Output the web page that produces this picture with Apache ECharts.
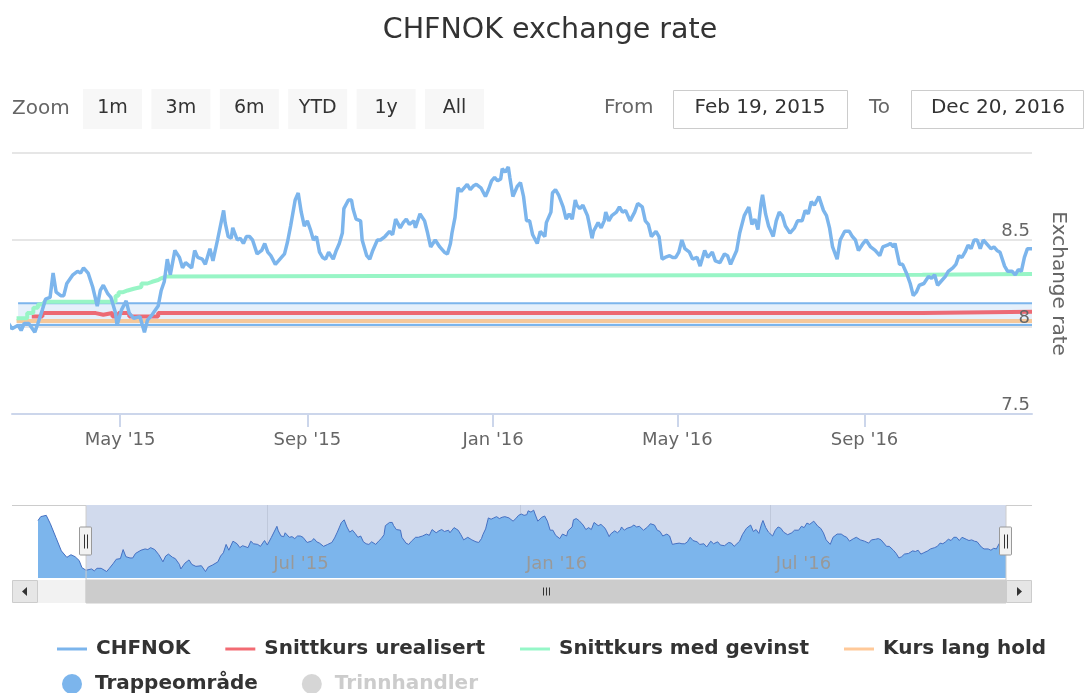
<!DOCTYPE html>
<html>
<head>
<meta charset="utf-8">
<title>CHFNOK exchange rate</title>
<script src="https://cdn.jsdelivr.net/npm/echarts@6.0.0/dist/echarts.min.js"></script>
<style>
  html, body { margin: 0; padding: 0; background: #fff; }
  #chart { width: 1085px; height: 693px; }
</style>
</head>
<body>
<div id="chart"></div>
<script>
const FONT = 'DejaVu Sans';

// CHFNOK kurs (lest av figuren)
const chfnok = [
  ['2015-01-15', 8.76], ['2015-01-17', 8.82], ['2015-01-21', 8.84], ['2015-01-24', 8.71],
  ['2015-01-28', 8.50], ['2015-02-01', 8.29], ['2015-02-05', 8.19], ['2015-02-08', 8.23],
  ['2015-02-11', 8.20], ['2015-02-14', 8.14], ['2015-02-16', 8.03], ['2015-02-19', 7.99],
  ['2015-02-23', 8.01], ['2015-02-25', 7.98], ['2015-02-27', 8.02], ['2015-03-02', 8.02],
  ['2015-03-06', 7.97], ['2015-03-08', 8.02], ['2015-03-11', 8.10], ['2015-03-13', 8.16],
  ['2015-03-16', 8.17], ['2015-03-18', 8.31], ['2015-03-20', 8.20], ['2015-03-23', 8.18],
  ['2015-03-25', 8.18], ['2015-03-27', 8.25], ['2015-03-31', 8.30], ['2015-04-03', 8.32],
  ['2015-04-05', 8.31], ['2015-04-07', 8.34], ['2015-04-10', 8.31], ['2015-04-13', 8.23],
  ['2015-04-16', 8.12], ['2015-04-18', 8.21], ['2015-04-20', 8.24], ['2015-04-23', 8.19],
  ['2015-04-25', 8.17], ['2015-04-28', 8.08], ['2015-04-29', 8.01], ['2015-05-02', 8.10],
  ['2015-05-05', 8.15], ['2015-05-07', 8.08], ['2015-05-10', 8.05], ['2015-05-14', 8.06],
  ['2015-05-17', 7.97], ['2015-05-19', 8.04], ['2015-05-22', 8.07], ['2015-05-26', 8.12],
  ['2015-05-28', 8.21], ['2015-05-30', 8.26], ['2015-06-01', 8.39], ['2015-06-03', 8.30],
  ['2015-06-06', 8.44], ['2015-06-09', 8.40], ['2015-06-11', 8.34], ['2015-06-13', 8.37],
  ['2015-06-17', 8.34], ['2015-06-19', 8.44], ['2015-06-21', 8.40], ['2015-06-24', 8.39],
  ['2015-06-26', 8.36], ['2015-06-29', 8.45], ['2015-07-01', 8.38], ['2015-07-04', 8.50],
  ['2015-07-08', 8.67], ['2015-07-09', 8.60], ['2015-07-11', 8.52], ['2015-07-13', 8.51],
  ['2015-07-14', 8.57], ['2015-07-17', 8.50], ['2015-07-19', 8.51], ['2015-07-21', 8.48],
  ['2015-07-23', 8.52], ['2015-07-25', 8.52], ['2015-07-27', 8.50], ['2015-07-30', 8.42],
  ['2015-08-02', 8.44], ['2015-08-04', 8.48], ['2015-08-06', 8.43], ['2015-08-08', 8.41],
  ['2015-08-11', 8.36], ['2015-08-14', 8.39], ['2015-08-17', 8.42], ['2015-08-19', 8.49],
  ['2015-08-21', 8.58], ['2015-08-24', 8.73], ['2015-08-26', 8.77], ['2015-08-28', 8.66],
  ['2015-08-30', 8.58], ['2015-09-01', 8.61], ['2015-09-03', 8.56], ['2015-09-05', 8.50],
  ['2015-09-07', 8.52], ['2015-09-09', 8.43], ['2015-09-11', 8.40], ['2015-09-13', 8.39],
  ['2015-09-15', 8.43], ['2015-09-18', 8.39], ['2015-09-20', 8.44], ['2015-09-22', 8.48],
  ['2015-09-24', 8.54], ['2015-09-25', 8.68], ['2015-09-28', 8.73], ['2015-09-30', 8.73],
  ['2015-10-01', 8.68], ['2015-10-03', 8.62], ['2015-10-06', 8.61], ['2015-10-07', 8.50],
  ['2015-10-10', 8.41], ['2015-10-12', 8.39], ['2015-10-14', 8.44], ['2015-10-17', 8.50],
  ['2015-10-19', 8.50], ['2015-10-22', 8.52], ['2015-10-25', 8.55], ['2015-10-27', 8.53],
  ['2015-10-29', 8.62], ['2015-10-30', 8.63], ['2015-11-01', 8.57], ['2015-11-03', 8.60],
  ['2015-11-05', 8.62], ['2015-11-07', 8.59], ['2015-11-10', 8.61], ['2015-11-11', 8.57],
  ['2015-11-14', 8.65], ['2015-11-15', 8.64], ['2015-11-17', 8.61], ['2015-11-19', 8.54],
  ['2015-11-21', 8.46], ['2015-11-24', 8.50], ['2015-11-27', 8.46], ['2015-11-30', 8.43],
  ['2015-12-02', 8.42], ['2015-12-04', 8.48], ['2015-12-05', 8.54], ['2015-12-07', 8.63],
  ['2015-12-09', 8.80], ['2015-12-11', 8.78], ['2015-12-13', 8.80], ['2015-12-15', 8.82],
  ['2015-12-17', 8.79], ['2015-12-19', 8.81], ['2015-12-21', 8.82], ['2015-12-24', 8.80],
  ['2015-12-27', 8.75], ['2015-12-29', 8.79], ['2015-12-31', 8.84], ['2016-01-02', 8.86],
  ['2016-01-04', 8.84], ['2016-01-06', 8.85], ['2016-01-07', 8.91], ['2016-01-09', 8.89],
  ['2016-01-11', 8.92], ['2016-01-12', 8.86], ['2016-01-14', 8.75], ['2016-01-15', 8.77],
  ['2016-01-17', 8.81], ['2016-01-19', 8.83], ['2016-01-21', 8.75], ['2016-01-23', 8.61],
  ['2016-01-25', 8.61], ['2016-01-27', 8.53], ['2016-01-30', 8.48], ['2016-02-01', 8.55],
  ['2016-02-04', 8.52], ['2016-02-05', 8.60], ['2016-02-08', 8.66], ['2016-02-09', 8.77],
  ['2016-02-11', 8.79], ['2016-02-13', 8.76], ['2016-02-16', 8.69], ['2016-02-18', 8.62],
  ['2016-02-20', 8.65], ['2016-02-22', 8.62], ['2016-02-24', 8.73], ['2016-02-25', 8.70],
  ['2016-02-27', 8.68], ['2016-02-29', 8.70], ['2016-03-03', 8.64], ['2016-03-04', 8.60],
  ['2016-03-06', 8.51], ['2016-03-07', 8.55], ['2016-03-10', 8.60], ['2016-03-12', 8.57],
  ['2016-03-14', 8.61], ['2016-03-15', 8.66], ['2016-03-17', 8.61], ['2016-03-19', 8.64],
  ['2016-03-22', 8.66], ['2016-03-24', 8.69], ['2016-03-26', 8.66], ['2016-03-28', 8.67],
  ['2016-03-31', 8.61], ['2016-04-03', 8.66], ['2016-04-05', 8.71], ['2016-04-08', 8.69],
  ['2016-04-10', 8.61], ['2016-04-12', 8.59], ['2016-04-14', 8.52], ['2016-04-17', 8.55],
  ['2016-04-19', 8.52], ['2016-04-21', 8.39], ['2016-04-23', 8.40], ['2016-04-26', 8.41],
  ['2016-04-28', 8.40], ['2016-04-30', 8.40], ['2016-05-02', 8.43], ['2016-05-04', 8.50],
  ['2016-05-06', 8.45], ['2016-05-09', 8.43], ['2016-05-11', 8.39], ['2016-05-14', 8.40],
  ['2016-05-16', 8.35], ['2016-05-19', 8.44], ['2016-05-21', 8.40], ['2016-05-24', 8.43],
  ['2016-05-26', 8.38], ['2016-05-29', 8.37], ['2016-06-01', 8.42], ['2016-06-03', 8.41],
  ['2016-06-05', 8.36], ['2016-06-07', 8.40], ['2016-06-09', 8.44], ['2016-06-11', 8.54],
  ['2016-06-14', 8.64], ['2016-06-17', 8.69], ['2016-06-19', 8.59], ['2016-06-21', 8.62],
  ['2016-06-23', 8.56], ['2016-06-25', 8.71], ['2016-06-26', 8.76], ['2016-06-28', 8.65],
  ['2016-06-30', 8.58], ['2016-07-03', 8.52], ['2016-07-05', 8.61], ['2016-07-07', 8.66],
  ['2016-07-09', 8.64], ['2016-07-11', 8.58], ['2016-07-14', 8.54], ['2016-07-17', 8.57],
  ['2016-07-19', 8.61], ['2016-07-22', 8.61], ['2016-07-24', 8.67], ['2016-07-26', 8.65],
  ['2016-07-28', 8.72], ['2016-07-30', 8.70], ['2016-08-02', 8.75], ['2016-08-05', 8.67],
  ['2016-08-07', 8.64], ['2016-08-09', 8.57], ['2016-08-11', 8.46], ['2016-08-14', 8.39],
  ['2016-08-16', 8.50], ['2016-08-19', 8.55], ['2016-08-22', 8.55], ['2016-08-24', 8.52],
  ['2016-08-26', 8.50], ['2016-08-28', 8.44], ['2016-08-31', 8.48], ['2016-09-02', 8.50],
  ['2016-09-05', 8.46], ['2016-09-08', 8.44], ['2016-09-11', 8.41], ['2016-09-13', 8.46],
  ['2016-09-16', 8.47], ['2016-09-18', 8.48], ['2016-09-20', 8.46], ['2016-09-21', 8.48],
  ['2016-09-24', 8.36], ['2016-09-26', 8.36], ['2016-09-29', 8.30], ['2016-10-01', 8.25],
  ['2016-10-03', 8.18], ['2016-10-05', 8.20], ['2016-10-07', 8.24], ['2016-10-10', 8.25],
  ['2016-10-13', 8.29], ['2016-10-15', 8.28], ['2016-10-17', 8.30], ['2016-10-19', 8.24],
  ['2016-10-21', 8.26], ['2016-10-24', 8.29], ['2016-10-26', 8.32], ['2016-10-29', 8.34],
  ['2016-10-31', 8.36], ['2016-11-02', 8.41], ['2016-11-04', 8.40], ['2016-11-06', 8.43],
  ['2016-11-08', 8.47], ['2016-11-10', 8.45], ['2016-11-12', 8.50], ['2016-11-14', 8.50],
  ['2016-11-16', 8.45], ['2016-11-18', 8.50], ['2016-11-21', 8.47], ['2016-11-23', 8.45],
  ['2016-11-25', 8.46], ['2016-11-27', 8.44], ['2016-11-29', 8.43], ['2016-12-02', 8.35],
  ['2016-12-04', 8.32], ['2016-12-07', 8.32], ['2016-12-09', 8.30], ['2016-12-11', 8.33],
  ['2016-12-13', 8.32], ['2016-12-15', 8.40], ['2016-12-17', 8.45], ['2016-12-20', 8.45]
];

// trappelinjer (trinnvise)
const snittUrealisert = [
  ['2015-03-04', 8.06], ['2015-03-11', 8.08], ['2015-04-15', 8.07], ['2015-04-20', 8.08],
  ['2015-04-26', 8.06], ['2015-04-30', 8.08], ['2015-05-07', 8.06], ['2015-05-26', 8.08],
  ['2016-10-09', 8.088], ['2016-12-20', 8.088]
];
const snittGevinst = [
  ['2015-02-22', 8.05], ['2015-03-01', 8.08], ['2015-03-05', 8.11], ['2015-03-08', 8.13],
  ['2015-03-12', 8.145], ['2015-04-28', 8.18], ['2015-04-30', 8.20], ['2015-05-03', 8.21],
  ['2015-05-06', 8.22], ['2015-05-10', 8.23], ['2015-05-15', 8.25], ['2015-05-19', 8.26],
  ['2015-05-22', 8.27], ['2015-05-26', 8.28], ['2015-05-28', 8.29], ['2015-05-31', 8.30],
  ['2016-10-09', 8.305], ['2016-12-20', 8.305]
];
const kursLangHold = [['2015-02-22', 8.034], ['2016-12-20', 8.034]];
const trappeDates = ['2015-02-23', '2016-12-20'];
const trappeLow = [8.011, 8.011];
const trappeHigh = [8.136, 8.136];

const windowStart = '2015-02-19';
const windowEnd = '2016-12-20';
const mainTicks = ['2015-05-01', '2015-09-01', '2016-01-01', '2016-05-01', '2016-09-01'];
const navTicks = ['2015-07-01', '2016-01-01', '2016-07-01'];
const rangeButtons = ['1m', '3m', '6m', 'YTD', '1y', 'All'];
const monthNames = ['Jan', 'Feb', 'Mar', 'Apr', 'May', 'Jun', 'Jul', 'Aug', 'Sep', 'Oct', 'Nov', 'Dec'];

function ts(s) {
  const p = s.split('-');
  return new Date(+p[0], +p[1] - 1, +p[2]).getTime();
}
const toPts = arr => arr.map(d => [ts(d[0]), d[1]]);
const shortLabel = v => {
  const d = new Date(v);
  return monthNames[d.getMonth()] + " '" + String(d.getFullYear()).slice(2);
};
const longDate = s => {
  const d = new Date(ts(s));
  return monthNames[d.getMonth()] + ' ' + d.getDate() + ', ' + d.getFullYear();
};

const chart = echarts.init(document.getElementById('chart'));

const labelFont = { fontFamily: FONT, fontSize: 18 };

const option = {
  backgroundColor: '#fff',
  animation: false,
  title: {
    text: 'CHFNOK exchange rate',
    left: 545, top: 11, textAlign: 'center',
    textStyle: { fontFamily: FONT, fontSize: 28.5, fontWeight: 'normal', color: '#333' }
  },
  legend: [{
    left: 57, top: 639, padding: 0, itemWidth: 30, itemHeight: 3, itemGap: 35, icon: 'rect',
    textStyle: { fontFamily: FONT, fontSize: 20, fontWeight: 'bold', color: '#333', padding: [0, 0, 0, 4] },
    data: ['CHFNOK', 'Snittkurs urealisert', 'Snittkurs med gevinst', 'Kurs lang hold']
  }, {
    left: 62, top: 674, padding: 0, itemWidth: 20, itemHeight: 20, itemGap: 44, icon: 'circle',
    inactiveColor: '#cccccc',
    textStyle: { fontFamily: FONT, fontSize: 20, fontWeight: 'bold', color: '#333', padding: [0, 0, 0, 8] },
    data: ['Trappeområde', 'Trinnhandler'],
    selected: { 'Trinnhandler': false }
  }],
  grid: [
    { left: 12, right: 53, top: 153, bottom: 279 },
    { left: 38, right: 79, top: 505, height: 73 }
  ],
  xAxis: [{
    type: 'value', gridIndex: 0, position: 'bottom',
    min: ts(windowStart), max: ts(windowEnd),
    axisLine: { lineStyle: { color: '#ccd6eb', width: 2 } },
    axisTick: { show: true, length: 13, lineStyle: { color: '#ccd6eb', width: 2 }, customValues: mainTicks.map(ts) },
    axisLabel: Object.assign({ customValues: mainTicks.map(ts), formatter: shortLabel, margin: 17, color: '#666' }, labelFont),
    splitLine: { show: false }
  }, {
    // navigator: gridlines only
    type: 'value', gridIndex: 1, position: 'bottom',
    min: ts(chfnok[0][0]), max: ts(windowEnd),
    axisLine: { show: false },
    axisTick: { show: false, customValues: navTicks.map(ts) },
    axisLabel: { show: false, customValues: navTicks.map(ts) },
    splitLine: { show: true, lineStyle: { color: '#e6e6e6', width: 1 } }
  }, {
    // navigator: labels on top of the area
    type: 'value', gridIndex: 1, position: 'bottom', offset: 0, z: 10,
    min: ts(chfnok[0][0]), max: ts(windowEnd),
    axisLine: { show: false },
    axisTick: { show: false, customValues: navTicks.map(ts) },
    axisLabel: Object.assign({
      inside: true, customValues: navTicks.map(ts), formatter: shortLabel,
      align: 'left', padding: [0, 0, 0, 6], margin: 5, color: '#999'
    }, labelFont),
    splitLine: { show: false }
  }],
  yAxis: [{
    type: 'value', gridIndex: 0, position: 'right',
    min: 7.5, max: 9.0, interval: 0.5,
    name: 'Exchange rate', nameLocation: 'middle', nameRotate: -90, nameGap: 16,
    nameTextStyle: { fontFamily: FONT, fontSize: 20, color: '#666' },
    axisLine: { show: false }, axisTick: { show: false },
    axisLabel: { show: false },
    splitLine: { lineStyle: { color: '#e6e6e6', width: 2 } }
  }, {
    type: 'value', gridIndex: 1, min: 7.87, max: 9.0,
    show: false, splitLine: { show: false }
  }, {
    // labels drawn above the series
    type: 'value', gridIndex: 0, position: 'right', offset: 0, z: 10,
    min: 7.5, max: 9.0, interval: 0.5,
    axisLine: { show: false }, axisTick: { show: false },
    axisLabel: Object.assign({ inside: true, margin: 2, verticalAlign: 'bottom', showMaxLabel: false, color: '#666' }, labelFont),
    splitLine: { show: false }
  }],
  series: [
    {
      name: 'Trappeområde', type: 'line', z: 1,
      data: trappeDates.map((d, i) => [ts(d), trappeLow[i]]),
      showSymbol: false, symbol: 'none', silent: true,
      itemStyle: { color: '#7cb5ec' },
      lineStyle: { color: '#7cb5ec', width: 2 },
      markArea: {
        silent: true,
        itemStyle: { color: 'rgba(124,181,236,0.2)' },
        data: [[
          { coord: [ts(trappeDates[0]), trappeLow[0]] },
          { coord: [ts(trappeDates[trappeDates.length - 1]), trappeHigh[trappeHigh.length - 1]] }
        ]]
      }
    },
    {
      name: 'Trappeområde', type: 'line', z: 1,
      data: trappeDates.map((d, i) => [ts(d), trappeHigh[i]]),
      showSymbol: false, symbol: 'none', silent: true,
      itemStyle: { color: '#7cb5ec' },
      lineStyle: { color: '#7cb5ec', width: 2 }
    },
    {
      name: 'Kurs lang hold', type: 'line', z: 2, data: toPts(kursLangHold),
      showSymbol: false, symbol: 'none',
      itemStyle: { color: '#ffc999' },
      lineStyle: { color: '#f6c89a', width: 4 }
    },
    {
      name: 'Snittkurs urealisert', type: 'line', step: 'end', z: 2, data: toPts(snittUrealisert),
      showSymbol: false, symbol: 'none',
      itemStyle: { color: '#f26b73' },
      lineStyle: { color: '#ec6a74', width: 4 }
    },
    {
      name: 'Snittkurs med gevinst', type: 'line', step: 'end', z: 2, data: toPts(snittGevinst),
      showSymbol: false, symbol: 'none',
      itemStyle: { color: '#96f7c8' },
      lineStyle: { color: '#98f5c6', width: 4 }
    },
    {
      name: 'CHFNOK', type: 'line', z: 4, data: toPts(chfnok),
      showSymbol: false, symbol: 'none',
      itemStyle: { color: '#7cb5ec' },
      lineStyle: { color: '#7cb5ec', width: 3.5 }
    },
    {
      name: 'Trinnhandler', type: 'scatter', data: [],
      itemStyle: { color: '#cccccc' }
    },
    {
      name: 'Navigator', type: 'line', xAxisIndex: 1, yAxisIndex: 1, z: 2,
      data: toPts(chfnok), showSymbol: false, symbol: 'none', silent: true,
      lineStyle: { color: '#4670c2', width: 1 },
      areaStyle: { color: '#7cb5ec', opacity: 1 }
    },
    {
      name: 'NavMask', type: 'line', xAxisIndex: 1, yAxisIndex: 1, z: 5,
      data: toPts(chfnok), showSymbol: false, symbol: 'none', silent: true,
      lineStyle: { opacity: 0 },
      markArea: {
        silent: true,
        itemStyle: { color: 'rgba(102,133,194,0.3)' },
        data: [[{ xAxis: ts(windowStart) }, { xAxis: ts(windowEnd) }]]
      }
    }
  ]
};

chart.setOption(option);

// navigator handles, scrollbar, range selector
const navTop = 505, navBottom = 578, sbTop = 580, sbH = 23;
const plotLeft = 12, plotRight = 1032, navLeft = 38, navRight = 1006;
const x0 = chart.convertToPixel({ xAxisIndex: 1 }, ts(windowStart));
const x1 = chart.convertToPixel({ xAxisIndex: 1 }, ts(windowEnd));
const midY = (navTop + navBottom) / 2;
const sbMid = sbTop + sbH / 2;

const graphics = [];
graphics.push({ type: 'text', x: 12, y: 109, style: { text: 'Zoom', fill: '#666', font: `20px "${FONT}"`, verticalAlign: 'middle' } });
rangeButtons.forEach((b, i) => {
  const bx = 83 + i * 68.4;
  graphics.push({ type: 'rect', shape: { x: bx, y: 89, width: 59, height: 40 }, style: { fill: '#f7f7f7' } });
  graphics.push({ type: 'text', x: bx + 29.5, y: 108, style: { text: b, fill: '#333', font: `19px "${FONT}"`, align: 'center', verticalAlign: 'middle' } });
});
graphics.push({ type: 'text', x: 604, y: 108, style: { text: 'From', fill: '#666', font: `20px "${FONT}"`, verticalAlign: 'middle' } });
graphics.push({ type: 'rect', shape: { x: 673.5, y: 90.5, width: 174, height: 38 }, style: { fill: '#fff', stroke: '#cccccc', lineWidth: 1 } });
graphics.push({ type: 'text', x: 760, y: 108, style: { text: longDate(windowStart), fill: '#333', font: `20px "${FONT}"`, align: 'center', verticalAlign: 'middle' } });
graphics.push({ type: 'text', x: 869, y: 108, style: { text: 'To', fill: '#666', font: `20px "${FONT}"`, verticalAlign: 'middle' } });
graphics.push({ type: 'rect', shape: { x: 911.5, y: 90.5, width: 172, height: 38 }, style: { fill: '#fff', stroke: '#cccccc', lineWidth: 1 } });
graphics.push({ type: 'text', x: 998, y: 108, style: { text: longDate(windowEnd), fill: '#333', font: `20px "${FONT}"`, align: 'center', verticalAlign: 'middle' } });

// scrollbar
graphics.push({ type: 'rect', shape: { x: navLeft, y: sbTop, width: navRight - navLeft, height: sbH }, style: { fill: '#f2f2f2' } });
graphics.push({ type: 'rect', shape: { x: x0, y: sbTop, width: x1 - x0, height: sbH }, style: { fill: '#cccccc', stroke: '#cccccc' } });
[-3, 0, 3].forEach(o => {
  const cx = Math.round((x0 + x1) / 2) + o + 0.5;
  graphics.push({ type: 'line', shape: { x1: cx, y1: sbMid - 4, x2: cx, y2: sbMid + 4 }, style: { stroke: '#333', lineWidth: 1 } });
});
graphics.push({ type: 'rect', shape: { x: plotLeft + 0.5, y: sbTop + 0.5, width: navLeft - plotLeft - 1, height: sbH - 1 }, style: { fill: '#e6e6e6', stroke: '#cccccc', lineWidth: 1 } });
graphics.push({ type: 'rect', shape: { x: navRight + 0.5, y: sbTop + 0.5, width: plotRight - navRight - 1, height: sbH - 1 }, style: { fill: '#e6e6e6', stroke: '#cccccc', lineWidth: 1 } });
graphics.push({ type: 'polygon', shape: { points: [[27, sbMid - 4.5], [22, sbMid], [27, sbMid + 4.5]] }, style: { fill: '#333' } });
graphics.push({ type: 'polygon', shape: { points: [[1017, sbMid - 4.5], [1022, sbMid], [1017, sbMid + 4.5]] }, style: { fill: '#333' } });

// navigator outline
graphics.push({
  type: 'polyline',
  shape: { points: [[plotLeft, navTop + 0.5], [x0, navTop + 0.5], [x0, sbTop + sbH - 0.5], [x1, sbTop + sbH - 0.5], [x1, navTop + 0.5], [plotRight, navTop + 0.5]] },
  style: { stroke: '#cccccc', lineWidth: 1, fill: null }
});

// handles
[x0, x1].forEach(hx => {
  const x = Math.round(hx);
  graphics.push({ type: 'rect', shape: { x: x - 6.5, y: midY - 14.5, width: 12, height: 28, r: 1 }, style: { fill: '#f2f2f2', stroke: '#999999', lineWidth: 1 } });
  graphics.push({ type: 'line', shape: { x1: x - 1.5, y1: midY - 7, x2: x - 1.5, y2: midY + 7 }, style: { stroke: '#333', lineWidth: 1 } });
  graphics.push({ type: 'line', shape: { x1: x + 1.5, y1: midY - 7, x2: x + 1.5, y2: midY + 7 }, style: { stroke: '#333', lineWidth: 1 } });
});

chart.setOption({ graphic: graphics.map(g => Object.assign({ silent: true, z: 100 }, g)) });
</script>
</body>
</html>
